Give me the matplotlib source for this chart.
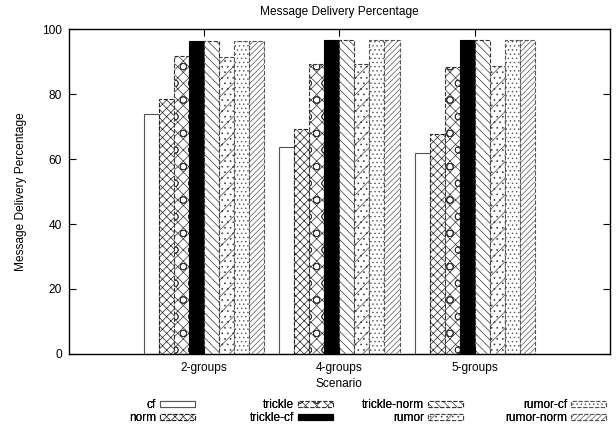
import matplotlib
matplotlib.use("Agg")
import matplotlib.pyplot as plt
import numpy as np

plt.rcParams['font.family'] = ['Liberation Sans', 'DejaVu Sans']
plt.rcParams['hatch.linewidth'] = 0.5

scenarios = ['2-groups', '4-groups', '5-groups']
series = ['cf', 'norm', 'trickle', 'trickle-cf', 'trickle-norm', 'rumor', 'rumor-cf', 'rumor-norm']

cf = [73.8, 63.8, 61.9]
norm = [78.5, 69.4, 67.7]
trickle = [91.8, 89.2, 88.4]
trickle_cf = [96.4, 96.5, 96.6]
trickle_norm = [96.4, 96.6, 96.6]
rumor = [91.5, 89.2, 88.6]
rumor_cf = [96.4, 96.5, 96.6]
rumor_norm = [96.4, 96.5, 96.6]
values = [cf, norm, trickle, trickle_cf, trickle_norm, rumor, rumor_cf, rumor_norm]

# fill, hatch, edge style, edge colour per series
styles = [
    ('white', None, 'solid', '#555555'),
    ('white', 'xxxx', 'dashed', '#222222'),
    ('white', 'xxxo', 'dashed', '#333333'),
    ('black', None, 'solid', 'black'),
    ('white', '\\\\\\\\', 'dashed', '#333333'),
    ('white', '//...', 'dashed', '#444444'),
    ('white', '....', 'dashed', '#555555'),
    ('white', '//////', 'dashed', '#555555'),
]

fig = plt.figure(figsize=(6.16, 4.28), dpi=100)
ax = fig.add_axes([0.112, 0.173, 0.878, 0.759])

x = np.arange(len(scenarios))
w = 1 / 9
handles = []
for i, (name, vals) in enumerate(zip(series, values)):
    fc, hatch, ls, ec = styles[i]
    b = ax.bar(x + (i - 3.5) * w, vals, w, color=fc, hatch=hatch,
               edgecolor=ec, linestyle=ls, linewidth=0.8, label=name)
    handles.append(b)

ax.set_xlim(-1, 3)
ax.set_ylim(0, 100)
ax.set_yticks(range(0, 101, 20))
ax.set_xticks(x)
ax.set_xticklabels(scenarios)
ax.tick_params(direction='in', length=5, width=0.8, top=True, right=True,
               labelsize=8.6)
ax.tick_params(axis='y', pad=5)
ax.tick_params(axis='x', pad=6)
for s in ax.spines.values():
    s.set_linewidth(1.0)

ax.set_title('Message Delivery Percentage', fontsize=8.6, pad=10)
ax.set_xlabel('Scenario', fontsize=8.6, labelpad=3)
ax.set_ylabel('Message Delivery Percentage', fontsize=8.6, labelpad=11)

# legend: four columns, text before the sample box
col_right = [195, 333, 463, 606]
for c in range(4):
    hs = handles[2 * c:2 * c + 2]
    leg = fig.legend(hs, series[2 * c:2 * c + 2], loc='upper right',
                     bbox_to_anchor=(col_right[c] / 616, 1 - 399 / 428),
                     frameon=False, markerfirst=False, fontsize=8.6,
                     handlelength=2.9, handleheight=0.4, handletextpad=0.35,
                     labelspacing=0.12, borderpad=0, borderaxespad=0)
    fig.add_artist(leg)

fig.savefig('out.png', dpi=100)
